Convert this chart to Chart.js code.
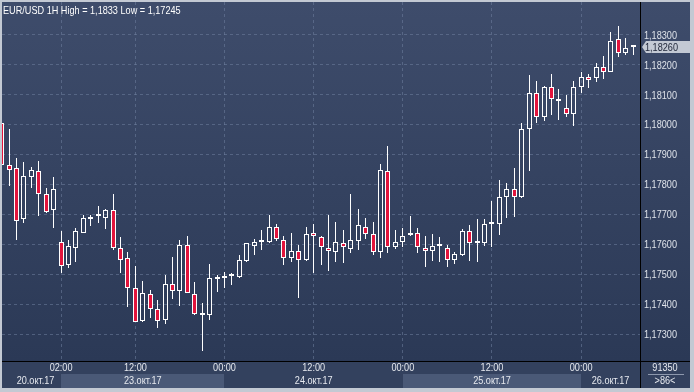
<!DOCTYPE html>
<html>
<head>
<meta charset="utf-8">
<script src="https://cdn.jsdelivr.net/npm/chart.js@4.4.0/dist/chart.umd.min.js"></script>
<style>
  html, body { margin: 0; padding: 0; background: #c4cad4; }
  #wrap { width: 694px; height: 392px; }
</style>
</head>
<body>
<div id="wrap"><canvas id="chart" width="694" height="392"></canvas></div>
<script>
// EUR/USD 1H candles, 20.10.17 ... 26.10.17 07:00 (86 bars)
const openP = [
  1.18007, 1.17867, 1.17857, 1.17687, 1.17827, 1.17847, 1.17770, 1.17717, 1.17610, 1.17533,
  1.17590, 1.17640, 1.17687, 1.17697, 1.17690, 1.17717, 1.17590, 1.17557, 1.17457, 1.17347,
  1.17437, 1.17387, 1.17350, 1.17470, 1.17447, 1.17600, 1.17437, 1.17367, 1.17367, 1.17487,
  1.17490, 1.17497, 1.17493, 1.17547, 1.17597, 1.17610, 1.17610, 1.17660, 1.17617, 1.17557,
  1.17580, 1.17550, 1.17640, 1.17627, 1.17590, 1.17577, 1.17607, 1.17587, 1.17613, 1.17660,
  1.17637, 1.17577, 1.17847, 1.17593, 1.17610, 1.17633, 1.17640, 1.17590, 1.17580, 1.17597,
  1.17590, 1.17550, 1.17567, 1.17647, 1.17607, 1.17607, 1.17670, 1.17670, 1.17760, 1.17787,
  1.17760, 1.17987, 1.18107, 1.18027, 1.18127, 1.18080, 1.18057, 1.18037, 1.18127, 1.18160,
  1.18157, 1.18193, 1.18177, 1.18287, 1.18240, 1.18260
];
const highP = [
  1.18013, 1.17987, 1.17890, 1.17877, 1.17860, 1.17880, 1.17790, 1.17827, 1.17647, 1.17617,
  1.17657, 1.17700, 1.17700, 1.17730, 1.17720, 1.17770, 1.17627, 1.17577, 1.17530, 1.17480,
  1.17450, 1.17417, 1.17500, 1.17560, 1.17617, 1.17630, 1.17477, 1.17407, 1.17537, 1.17500,
  1.17510, 1.17507, 1.17567, 1.17607, 1.17620, 1.17650, 1.17700, 1.17670, 1.17630, 1.17640,
  1.17600, 1.17660, 1.17670, 1.17630, 1.17700, 1.17677, 1.17650, 1.17770, 1.17720, 1.17690,
  1.17677, 1.17870, 1.17930, 1.17650, 1.17657, 1.17697, 1.17657, 1.17630, 1.17637, 1.17627,
  1.17600, 1.17577, 1.17653, 1.17667, 1.17687, 1.17687, 1.17747, 1.17817, 1.17807, 1.17857,
  1.18007, 1.18167, 1.18147, 1.18130, 1.18170, 1.18120, 1.18100, 1.18147, 1.18177, 1.18170,
  1.18207, 1.18230, 1.18310, 1.18330, 1.18290, 1.18260
];
const lowP = [
  1.17860, 1.17797, 1.17617, 1.17673, 1.17790, 1.17697, 1.17707, 1.17657, 1.17507, 1.17523,
  1.17543, 1.17640, 1.17663, 1.17673, 1.17653, 1.17583, 1.17507, 1.17393, 1.17343, 1.17343,
  1.17357, 1.17323, 1.17337, 1.17420, 1.17397, 1.17440, 1.17367, 1.17245, 1.17350, 1.17443,
  1.17457, 1.17467, 1.17490, 1.17543, 1.17567, 1.17583, 1.17607, 1.17613, 1.17533, 1.17543,
  1.17423, 1.17547, 1.17507, 1.17533, 1.17513, 1.17543, 1.17540, 1.17573, 1.17583, 1.17620,
  1.17567, 1.17557, 1.17573, 1.17587, 1.17593, 1.17630, 1.17573, 1.17527, 1.17547, 1.17543,
  1.17527, 1.17537, 1.17563, 1.17547, 1.17543, 1.17597, 1.17593, 1.17633, 1.17690, 1.17693,
  1.17757, 1.17847, 1.18007, 1.18013, 1.18033, 1.18017, 1.18027, 1.17997, 1.18107, 1.18123,
  1.18143, 1.18153, 1.18177, 1.18227, 1.18233, 1.18233
];
const closeP = [
  1.17867, 1.17850, 1.17680, 1.17830, 1.17850, 1.17770, 1.17710, 1.17787, 1.17530, 1.17597,
  1.17647, 1.17690, 1.17693, 1.17697, 1.17717, 1.17590, 1.17550, 1.17457, 1.17343, 1.17440,
  1.17387, 1.17347, 1.17470, 1.17447, 1.17600, 1.17440, 1.17370, 1.17367, 1.17490, 1.17487,
  1.17490, 1.17497, 1.17550, 1.17607, 1.17610, 1.17610, 1.17660, 1.17620, 1.17557, 1.17580,
  1.17550, 1.17637, 1.17630, 1.17593, 1.17580, 1.17610, 1.17593, 1.17617, 1.17667, 1.17637,
  1.17577, 1.17850, 1.17593, 1.17610, 1.17630, 1.17640, 1.17593, 1.17580, 1.17597, 1.17597,
  1.17550, 1.17570, 1.17647, 1.17607, 1.17607, 1.17670, 1.17670, 1.17760, 1.17787, 1.17760,
  1.17987, 1.18107, 1.18027, 1.18127, 1.18087, 1.18080, 1.18037, 1.18127, 1.18160, 1.18150,
  1.18193, 1.18177, 1.18280, 1.18240, 1.18257, 1.18260
];

const priceTicks = [1.173, 1.174, 1.175, 1.176, 1.177, 1.178, 1.179, 1.180, 1.181, 1.182, 1.183];
const timeTickIdx = [8, 18, 30, 42, 54, 66, 78];
const timeTickText = ['02:00', '12:00', '00:00', '12:00', '00:00', '12:00', '00:00'];
const dayText = ['20.окт.17', '23.окт.17', '24.окт.17', '25.окт.17', '26.окт.17'];
const dayStartIdx = [0, 8, 30, 54, 78];
const titleText = 'EUR/USD 1H High = 1,1833 Low = 1,17245';
const volumeText = '91350';

const RED = '#e2143c';
const GRID = 'rgba(112,128,158,0.55)';
const TEXT = '#e6e9ef';
const FONT = '11px "Liberation Sans", Arial, sans-serif';
const NARROW = 0.83; // the terminal font is a narrow sans
const fmt = v => v.toFixed(5).replace('.', ',');

const idx = openP.map((_, i) => i);
const bodies = idx.map(i => ({ x: i, y: [openP[i], closeP[i]] }));
const upperWicks = idx.map(i => ({ x: i, y: [Math.max(openP[i], closeP[i]), highP[i]] }));
const lowerWicks = idx.map(i => ({ x: i, y: [lowP[i], Math.min(openP[i], closeP[i])] }));

function label(ctx, text, x, y, align, color, base) {
  ctx.save();
  ctx.translate(x, y);
  ctx.scale(NARROW, 1);
  ctx.font = FONT;
  ctx.fillStyle = color;
  ctx.textAlign = align;
  ctx.textBaseline = base || 'middle';
  ctx.fillText(text, 0, 0);
  ctx.restore();
}

// background, panels, axis labels and overlays
const decor = {
  id: 'decor',
  beforeDraw(chart) {
    const { ctx, chartArea: ca } = chart;
    ctx.save();
    ctx.fillStyle = '#c3c9d3';
    ctx.fillRect(0, 0, chart.width, chart.height);
    const g = ctx.createLinearGradient(0, ca.top, 0, ca.bottom);
    g.addColorStop(0, '#3e4c6b');
    g.addColorStop(1, '#2b3956');
    ctx.fillStyle = g;
    ctx.fillRect(2, 2, 688, ca.bottom - 2);
    ctx.fillStyle = '#33415e';
    ctx.fillRect(2, ca.bottom, 688, 388 - ca.bottom);
    ctx.restore();
  },
  afterDraw(chart) {
    const { ctx, chartArea: ca, scales: { x, y } } = chart;
    ctx.save();

    // day row
    const bandTop = ca.bottom + 13, bandH = 388 - bandTop;
    dayText.forEach((t, k) => {
      const x0 = k === 0 ? ca.left + 8 : x.getPixelForValue(dayStartIdx[k]);
      const x1 = k < dayText.length - 1 ? x.getPixelForValue(dayStartIdx[k + 1]) : ca.right;
      if (k % 2 === 1) {
        ctx.fillStyle = '#4a5977';
        ctx.fillRect(Math.round(x0), bandTop, Math.round(x1 - x0), bandH);
      }
      label(ctx, t, (x0 + x1) / 2, ca.bottom + 19.5, 'center', TEXT);
    });

    // time row
    timeTickIdx.forEach((v, k) => {
      label(ctx, timeTickText[k], x.getPixelForValue(v), ca.bottom + 7, 'center', TEXT);
    });

    // price labels
    priceTicks.forEach(v => {
      label(ctx, fmt(v), ca.right + 4, y.getPixelForValue(v) + 0.5, 'left', '#dfe3ea');
    });

    // axis separators
    ctx.fillStyle = '#000000';
    ctx.fillRect(2, ca.bottom, 688, 1);
    ctx.fillRect(ca.right, 2, 1, 386);

    // bottom right box
    label(ctx, volumeText, 665, ca.bottom + 7, 'center', TEXT);
    label(ctx, '>' + closeP.length + '<', 665, ca.bottom + 20, 'center', TEXT);
    ctx.fillStyle = '#8d98ad';
    ctx.fillRect(648, ca.bottom + 13, 36, 1);

    // last price tag
    const last = closeP[closeP.length - 1];
    const py = Math.round(y.getPixelForValue(last));
    ctx.fillStyle = '#c3c9d4';
    ctx.beginPath();
    ctx.moveTo(ca.right + 2, py);
    ctx.lineTo(ca.right + 6, py - 6);
    ctx.lineTo(690, py - 6);
    ctx.lineTo(690, py + 6);
    ctx.lineTo(ca.right + 6, py + 6);
    ctx.closePath();
    ctx.fill();
    label(ctx, fmt(last), ca.right + 5, py + 0.5, 'left', '#1b2235');

    // title
    label(ctx, titleText, 3, 14, 'left', '#ffffff', 'alphabetic');

    // outer frame
    ctx.fillStyle = '#c3c9d3';
    ctx.fillRect(0, 0, chart.width, 2);
    ctx.fillRect(0, 0, 2, chart.height);
    ctx.fillRect(690, 0, 4, chart.height);
    ctx.fillRect(0, 388, chart.width, 4);
    ctx.restore();
  }
};

// keep candles on whole pixels
const snap = {
  id: 'snap',
  afterDatasetsUpdate(chart) {
    chart.data.datasets.forEach((ds, di) => {
      chart.getDatasetMeta(di).data.forEach(el => {
        el.x = Math.floor(el.x) + 0.5;
        el.y = Math.round(el.y);
        el.base = Math.round(el.base);
      });
    });
  }
};

const ctx = document.getElementById('chart').getContext('2d');
const chart = new Chart(ctx, {
  type: 'bar',
  data: {
    datasets: [
      {
        label: 'body',
        data: bodies,
        barThickness: 5,
        minBarLength: 2,
        borderWidth: 1,
        borderColor: '#ffffff',
        borderSkipped: false,
        inflateAmount: 0,
        grouped: false,
        backgroundColor: c => closeP[c.dataIndex] < openP[c.dataIndex] ? RED : 'rgba(0,0,0,0)'
      },
      {
        label: 'upper',
        data: upperWicks,
        barThickness: 1,
        borderWidth: 0,
        inflateAmount: 0,
        grouped: false,
        backgroundColor: '#ffffff'
      },
      {
        label: 'lower',
        data: lowerWicks,
        barThickness: 1,
        borderWidth: 0,
        inflateAmount: 0,
        grouped: false,
        backgroundColor: '#ffffff'
      }
    ]
  },
  options: {
    responsive: false,
    animation: false,
    events: [],
    layout: { padding: { left: 2, top: 2, right: 4, bottom: 4 } },
    plugins: {
      legend: { display: false },
      tooltip: { enabled: false }
    },
    scales: {
      x: {
        type: 'linear',
        min: 0.05,
        max: 85.92,
        offset: false,
        afterBuildTicks: s => { s.ticks = timeTickIdx.map(v => ({ value: v })); },
        afterFit: s => { s.height = 27; },
        ticks: { display: false },
        grid: { color: GRID, drawTicks: false, offset: false },
        border: { display: false, dash: [3, 3] }
      },
      y: {
        position: 'right',
        min: 1.17213,
        max: 1.1841,
        afterBuildTicks: s => { s.ticks = priceTicks.map(v => ({ value: v })); },
        afterFit: s => { s.width = 50; },
        ticks: { display: false },
        grid: { color: GRID, drawTicks: false },
        border: { display: false, dash: [3, 3] }
      }
    }
  },
  plugins: [decor, snap]
});
</script>
</body>
</html>
